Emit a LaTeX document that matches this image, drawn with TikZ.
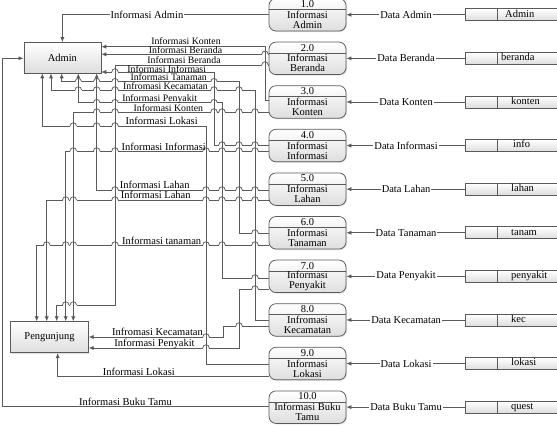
\documentclass[tikz,border=0pt]{standalone}
\usepackage{fontspec}
\setmainfont{Liberation Serif}
\usetikzlibrary{arrows.meta,shadows}
\definecolor{lc}{HTML}{5A5A5A}
\newcommand\dfdfont{\fontsize{10.5}{10}\selectfont}
\newcommand\dfdsmall{\fontsize{9.8}{10}\selectfont}
\begin{document}
\begin{tikzpicture}[x=1pt,y=-1pt,
  ln/.style={draw=lc,line width=0.75pt},
  flow/.style={ln,-{Latex[length=5pt,width=4.2pt]}},
  box/.style={draw=lc,line width=0.75pt,top color=white,bottom color=black!13,drop shadow={shadow xshift=1pt,shadow yshift=-1pt,opacity=0.25}},
  ent/.style={box,minimum width=77pt,minimum height=30.5pt,inner sep=0pt,font=\dfdfont},
  proc/.style={box,rounded corners=7pt,minimum width=77pt,minimum height=32.5pt,inner sep=0pt},
  ptxt/.style={font=\dfdfont,inner sep=0pt,align=center},
  store/.style={top color=white,bottom color=black!13,minimum width=91pt,minimum height=11.5pt,inner sep=0pt},
  stxt/.style={font=\dfdfont,inner sep=0pt,anchor=mid west},
  flab/.style={font=\dfdfont,inner sep=0pt,anchor=base,text height=6.8pt,text depth=0pt},
  slab/.style={flab,font=\dfdsmall},
  dlab/.style={font=\dfdfont,inner sep=1pt,fill=white},
]
\useasboundingbox (0,0) rectangle (557,426);

% external entities
\node[ent] (admin) at (62.4,57.7) {Admin};
\node[ent,minimum height=31pt,minimum width=77.6pt] (peng) at (49.5,337.2) {Pengunjung};

% processes, data stores, data flows
\foreach \i/\pnum/\ptext/\sname/\sx/\dname in {
 1/1.0/{Informasi\\Admin}/Admin/505/Data Admin,
 2/2.0/{Informasi\\Beranda}/beranda/501/Data Beranda,
 3/3.0/{Informasi\\Konten}/konten/511/Data Konten,
 4/4.0/{Informasi\\Informasi}/info/513/Data Informasi,
 5/5.0/{Informasi\\Lahan}/lahan/511/Data Lahan,
 6/6.0/{Informasi\\Tanaman}/tanam/511/Data Tanaman,
 7/7.0/{Informasi\\Penyakit}/penyakit/511/Data Penyakit,
 8/8.0/{Infromasi\\Kecamatan}/kec/511/Data Kecamatan,
 9/9.0/{Informasi\\Lokasi}/lokasi/511/Data Lokasi,
 10/10.0/{Informasi Buku\\Tamu}/quest/511/Data Buku Tamu}{
 \pgfmathsetmacro\cy{14.75+43.6*(\i-1)}
 \node[proc] (p\i) at (307.5,\cy) {};
 \draw[ln] ([yshift=-11.5pt]p\i.north west) -- ([yshift=-11.5pt]p\i.north east);
 \node[ptxt] (pn\i) at ([yshift=-6pt]p\i.north) {\pnum};
 \node[ptxt] (pt\i) at ([yshift=-21.5pt]p\i.north) {\ptext};
 \node[store] (s\i) at (511.5,\cy) {};
 \draw[ln] (s\i.north east) -- (s\i.north west) -- (s\i.south west) -- (s\i.south east);
 \draw[ln] ([xshift=31.7pt]s\i.north west) -- ([xshift=31.7pt]s\i.south west);
 \node[stxt] (st\i) at (\sx,\cy) {\sname};
 \draw[flow] (s\i.west) -- node[dlab] (dl\i) {\dname} (p\i.east);
}

% flows to Admin
\draw[flow] (p1.west) -| (admin.north);
\draw[flow] (p3.west |- 0,100) -- (265,100) -- (265,46.7) -- (admin.east |- 0,46.7);
\draw[flow] (p2.west |- 0,54.3) -- (admin.east |- 0,54.3);
\draw[flow] (p4.west |- 0,145) -- (214,145) -- (214,72) -- (admin.east |- 0,72);
\draw[flow] (p6.west |- 0,233) -- (239,233) -- (239,81.7) -- (61.7,81.7) -- (admin.south -| 61.7,0);
\draw[flow] (p8.west |- 0,320) -- (255,320) -- (255,90) -- (51,90) -- (admin.south -| 51,0);
\draw[flow] (p7.west |- 0,278) -- (222,278) -- (222,102.7) -- (78.3,102.7) -- (admin.south -| 78.3,0);
\draw[flow] (p9.west |- 0,364) -- (206,364) -- (206,126) -- (42.3,126) -- (admin.south -| 42.3,0);
\draw[flow] (p5.west |- 0,190) -- (96.7,190) -- (admin.south -| 96.7,0);
\draw[flow] (p10.west |- 0,406) -- (2,406) -- (2,58.3) -- (admin.west |- 0,58.3);

% flows to Pengunjung
\draw[flow] (p2.west |- 0,65) -- (115,65) -- (115,305) -- (56.7,305) -- (peng.north -| 56.7,0);
\draw[flow] (p3.west |- 0,112) -- (73.3,112) -- (peng.north -| 73.3,0);
\draw[flow] (p4.west |- 0,151) -- (65.7,151) -- (peng.north -| 65.7,0);
\draw[flow] (p5.west |- 0,200) -- (46.7,200) -- (peng.north -| 46.7,0);
\draw[flow] (p6.west |- 0,245) -- (36.7,245) -- (peng.north -| 36.7,0);
\draw[flow] (p7.west |- 0,289) -- (239,289) -- (239,348) -- (peng.east |- 0,348);
\draw[flow] (p8.west |- 0,326) -- (223,326) -- (223,337) -- (peng.east |- 0,337);
\draw[flow] (p9.west |- 0,376) -- (57.7,376) -- (peng.south -| 57.7,0);

% line jumps
\foreach \hx/\hy in {265/54.3, 115/72, 222/145, 239/145, 255/145, 78.3/81.7, 96.7/81.7, 115/81.7, 214/81.7, 255/233,
 78.3/90, 96.7/90, 115/90, 214/90, 239/90, 96.7/102.7, 115/102.7, 214/102.7, 255/278, 73.3/126, 96.7/126, 115/126,
 115/190, 206/190, 222/190, 239/190, 255/190, 265/65, 65.7/305, 73.3/305, 96.7/112, 115/112, 214/112, 222/112, 239/112, 255/112,
 73.3/151, 96.7/151, 115/151, 206/151, 222/151, 239/151, 255/151, 65.7/200, 73.3/200, 115/200, 206/200, 222/200, 239/200, 255/200,
 46.7/245, 65.7/245, 73.3/245, 115/245, 206/245, 222/245, 255/245, 255/289, 206/348, 239/326, 206/337}{
 \fill[white] (\hx-3.2,\hy-1.5) rectangle (\hx+3.2,\hy+1.5);
 \draw[ln] (\hx,\hy-3) -- (\hx,\hy+3);
 \draw[ln] (\hx-3.2,\hy) .. controls (\hx-3.2,\hy-4.3) and (\hx+3.2,\hy-4.3) .. (\hx+3.2,\hy);
}

% flow labels
\node[dlab] (la1) at (147,15) {Informasi Admin};
\node[slab] (la2) at (186,44.6) {Informasi Konten};
\node[slab] (la3) at (185.5,53.4) {Informasi Beranda};
\node[slab] (lb1) at (184,63.2) {Informasi Beranda};
\node[slab] (la4) at (166.7,72.0) {Informasi Informasi};
\node[slab] (la5) at (168.7,80.8) {Informasi Tanaman};
\node[slab] (la6) at (165.5,89.6) {Infromasi Kecamatan};
\node[slab] (la7) at (159.7,101.8) {Informasi Penyakit};
\node[slab] (lb2) at (168.3,111.2) {Informasi Konten};
\node[flab] (la8) at (161.7,124.8) {Informasi Lokasi};
\node[flab] (lb3) at (163.7,150.2) {Informasi Informasi};
\node[flab] (la9) at (154.7,188.6) {Informasi Lahan};
\node[flab] (lb4) at (155.8,198.6) {Informasi Lahan};
\node[flab] (lb5) at (161.7,244.6) {Informasi tanaman};
\node[flab] (lb7) at (157.5,335.8) {Infromasi Kecamatan};
\node[flab] (lb6) at (154.5,346.4) {Informasi Penyakit};
\node[flab] (lb8) at (138.8,375.4) {Informasi Lokasi};
\node[flab] (la10) at (125.5,405.4) {Informasi Buku Tamu};
\end{tikzpicture}
\end{document}
